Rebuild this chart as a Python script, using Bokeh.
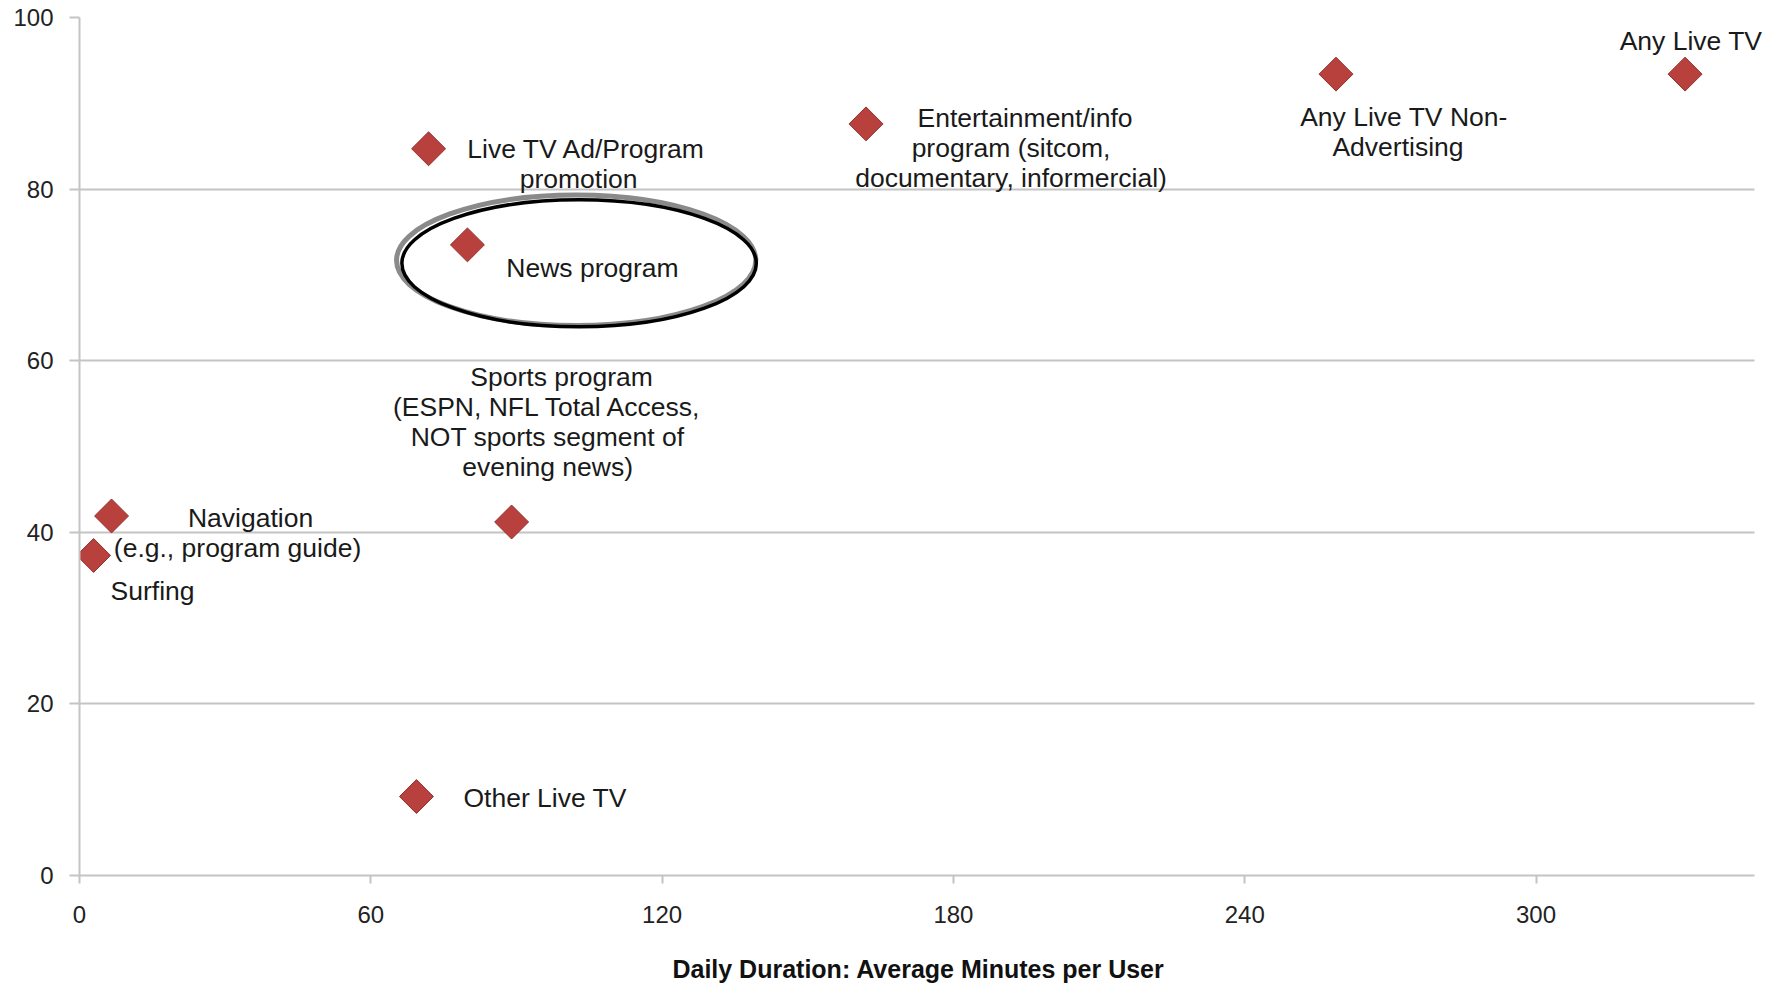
from bokeh.plotting import figure
from bokeh.models import Label, Range1d, FixedTicker, ColumnDataSource
from bokeh.embed import file_html
from bokeh.resources import INLINE
import numpy as np

# ---- data ----
categories = [
    "Any Live TV",
    "Any Live TV Non-\nAdvertising",
    "Entertainment/info\nprogram (sitcom,\ndocumentary, informercial)",
    "Live TV Ad/Program\npromotion",
    "News program",
    "Sports program\n(ESPN, NFL Total Access,\nNOT sports segment of\nevening news)",
    "Navigation\n(e.g., program guide)",
    "Surfing",
    "Other Live TV",
]
minutes = [330.7, 258.8, 162.0, 71.9, 79.9, 89.0, 6.6, 2.9, 69.4]
percent = [93.4, 93.4, 87.6, 84.7, 73.5, 41.2, 41.9, 37.3, 9.2]
x_ticks = [0, 60, 120, 180, 240, 300]
y_ticks = [0, 20, 40, 60, 80, 100]
x_title = "Daily Duration: Average Minutes per User"

# ---- label placement (screen pixels relative to each marker; +dy = up) ----
label_dx = [6, 62, 145, 150, 125, 36, 126, 17, 47]
label_dy = [33, -58, -24, -15, -23, 100, -17, -36, -1]
first_line_shift = [0, 6, 14, 8, 0, 14, 13, 0, 0]
label_align = ["center", "center", "center", "center", "center", "center", "center", "left", "left"]
LINE_H = 30

FONT = "Liberation Sans"
GRID = "#c4c4c4"
X_MAX = 345.0
PX_PER_MIN = 1675.0 / X_MAX
RIGHT_BORDER = 6
x_end = (1777 - 79 - RIGHT_BORDER) / PX_PER_MIN

p = figure(width=1777, height=985, output_backend="svg", toolbar_location=None,
           x_range=Range1d(0, x_end), y_range=Range1d(0, 100),
           min_border_left=79, min_border_right=RIGHT_BORDER, min_border_top=17, min_border_bottom=108)
p.outline_line_color = None
p.background_fill_color = "white"
p.border_fill_color = "white"

p.xgrid.grid_line_color = None
p.ygrid.grid_line_color = GRID
p.ygrid.grid_line_width = 2
if "cross_bounds" in p.ygrid[0].properties():
    p.ygrid[0].cross_bounds = (0, X_MAX)
p.yaxis.ticker = FixedTicker(ticks=y_ticks)
p.xaxis.ticker = FixedTicker(ticks=x_ticks)
p.xaxis.bounds = (0, X_MAX)

for ax in (p.xaxis[0], p.yaxis[0]):
    ax.axis_line_color = GRID
    ax.axis_line_width = 2
    ax.major_tick_line_color = GRID
    ax.major_tick_line_width = 2
    ax.major_tick_in = 0
    ax.minor_tick_line_color = None
    ax.major_label_text_font = FONT
    ax.major_label_text_font_size = "24px"
    ax.major_label_text_color = "#222222"
p.xaxis.major_tick_out = 8
p.yaxis.major_tick_out = 10
p.xaxis.major_label_standoff = 22
p.yaxis.major_label_standoff = 16

# x-axis title; two trailing no-break spaces re-centre it under the 0..X_MAX span
p.xaxis.axis_label = x_title + "\u00a0\u00a0"
p.xaxis.axis_label_text_font = FONT
p.xaxis.axis_label_text_font_style = "bold"
p.xaxis.axis_label_text_font_size = "25px"
p.xaxis.axis_label_text_color = "#111111"
p.xaxis.axis_label_standoff = 29

# highlight ellipse around "News program"
p.ellipse(x=102.3, y=71.7, width=74, height=15.2, fill_color=None,
          line_color="#8a8a8a", line_width=5)
p.ellipse(x=102.9, y=71.35, width=73, height=14.8, fill_color=None,
          line_color="black", line_width=3.5)

src = ColumnDataSource(dict(x=minutes, y=percent))
p.scatter(x="x", y="y", source=src, marker="square", angle=np.pi / 4, size=24,
          fill_color="#B8413E", line_color="#96302d", line_width=1)

for xv, yv, txt, dx, dy, sh, al in zip(minutes, percent, categories, label_dx, label_dy,
                                       first_line_shift, label_align):
    lines = txt.split("\n")
    n = len(lines)
    for i, ln in enumerate(lines):
        off = dy + (n - 1) / 2 * LINE_H - i * LINE_H
        p.add_layout(Label(x=xv, y=yv, text=ln, x_offset=dx + (sh if i == 0 else 0), y_offset=off,
                           text_align=al, text_baseline="middle",
                           text_font=FONT, text_font_size="26.5px", text_color="#1a1a1a"))

open("out.html", "w").write(file_html(p, INLINE))
